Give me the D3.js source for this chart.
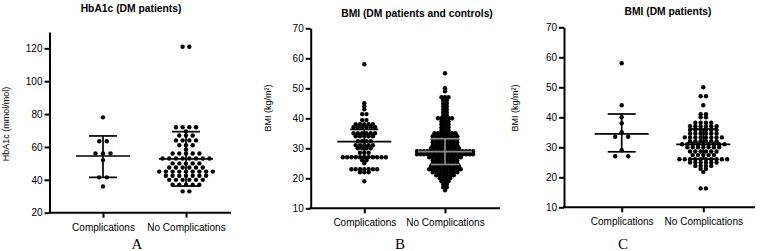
<!DOCTYPE html>
<html>
<head>
<meta charset="utf-8">
<script src="https://cdn.jsdelivr.net/npm/d3@7"></script>
<style>
  body { margin: 0; background: #fff; }
  svg { display: block; font-family: "Liberation Sans", Arial, sans-serif; }
  .axis path, .axis line { stroke: #000; stroke-width: 2; }
  .axis text { fill: #000; font-size: 10px; }
  .x-axis text { font-size: 10px; }
  .title { font-weight: bold; font-size: 10.3px; fill: #000; }
  .ylabel { font-size: 9px; fill: #000; }
  .letter { font-family: "Liberation Serif", "Times New Roman", serif; font-size: 15px; fill: #000; }
</style>
</head>
<body>
<svg id="chart" width="760" height="251"></svg>
<script>
// Chart values
const categories = ['Complications', 'No Complications'];
const panelTitles = ['HbA1c (DM patients)', 'BMI (DM patients and controls)', 'BMI (DM patients)'];
const panelLetters = ['A', 'B', 'C'];
const yAxisLabels = ['HbA1c (mmol/mol)', 'BMI (kg/m\u00b2)', 'BMI (kg/m\u00b2)'];
const yDomains = [[20, 130], [10, 70], [10, 70]];
const yTickValues = [
  [20, 40, 60, 80, 100, 120],
  [10, 20, 30, 40, 50, 60, 70],
  [10, 20, 30, 40, 50, 60, 70]
];

// dot rows: [value, number of dots at that value]
const hba1cComplications = [[78, 1], [63.5, 2], [56, 3], [52, 1], [41.5, 2], [36, 1]];
const hba1cNoComplications = [
  [121, 2], [72, 4], [69.5, 1], [67, 3], [64, 4], [61, 3], [58.5, 1], [56, 5], [53, 8],
  [50, 5], [47.5, 6], [45, 9], [42.5, 7], [40, 6], [37, 5], [33, 2]
];
const bmiAllComplications = [
  [58, 1], [45, 1], [44, 1], [43, 1], [41.4, 2], [39.4, 2], [38, 5], [37, 6], [35, 6],
  [34, 5], [32.4, 4], [31, 5], [30, 4], [28.5, 3], [27, 11], [26, 2], [25, 1], [23, 7],
  [22, 3], [19, 1]
];
const bmiAllNoComplications = [
  [55, 1], [50, 1], [49, 1], [47, 3], [46, 2], [45, 2], [44, 2], [43, 2], [42, 2], [41, 2],
  [40, 5], [39, 3], [38, 3], [37, 3], [36, 3], [35, 7], [34, 8], [33, 8], [32, 8], [31, 8],
  [30, 9], [29, 17], [28, 17], [27, 10], [26, 8], [25, 8], [24, 9], [23, 10], [22, 8], [21, 6],
  [20, 4], [19, 3], [18, 2], [17, 2], [16, 1]
];
const bmiDmComplications = [[58, 1], [44, 1], [40, 1], [38, 1], [35, 1], [33.5, 2], [29, 1], [27, 2]];
const bmiDmNoComplications = [
  [50, 1], [47, 2], [44, 1], [41, 2], [40, 2], [38.2, 4], [37, 6], [35.8, 6], [34.6, 6],
  [33.3, 8], [32, 6], [31, 9], [30, 7], [28.6, 6], [27.4, 5], [26, 10], [24.9, 6],
  [23.8, 4], [22.8, 2], [21.8, 1], [16.3, 2]
];

// mean line and SD caps for each group
const barMeans = [[54.5, 52.7], [32.2, 28.9], [34.5, 31.0]];
const barUpper = [[66.7, 69.3], [36.3, 33.2], [41.1, 36.1]];
const barLower = [[41.5, 36.2], [27.2, 24.6], [28.5, 26.1]];

const groups = [
  [hba1cComplications, hba1cNoComplications],
  [bmiAllComplications, bmiAllNoComplications],
  [bmiDmComplications, bmiDmNoComplications]
];

// Panel layout in pixels
const frames = [
  { left: 49.5, right: 231, top: 31.9, bottom: 212.7, cats: [103, 186], spacing: [7.5, 6.7],
    titleX: 131, titleY: 12, letterX: 137, labelX: 6, labelY: 124 },
  { left: 310.7, right: 500, top: 28.3, bottom: 208.3, cats: [364.3, 445], spacing: [4.3, 3.5],
    titleX: 417, titleY: 17, letterX: 400, labelX: 268, labelY: 108 },
  { left: 564, right: 755, top: 27.3, bottom: 207.3, cats: [621.7, 703.3], spacing: [13, 5.3],
    titleX: 668, titleY: 15, letterX: 623, labelX: 515, labelY: 108 }
];

const dotRadius = 2.2;
const meanHalf = 27;
const capHalf = 14;

const svg = d3.select('#chart');

frames.forEach((f, p) => {
  const g = svg.append('g');

  const y = d3.scaleLinear().domain(yDomains[p]).range([f.bottom, f.top]);
  const x = d3.scalePoint().domain(categories).range(f.cats);

  // dots, each row centred on its category
  categories.forEach((cat, c) => {
    const pts = [];
    groups[p][c].forEach(([v, n]) => {
      for (let i = 0; i < n; i++) {
        pts.push({ v, off: (i - (n - 1) / 2) * f.spacing[c] });
      }
    });
    g.append('g').selectAll('circle')
        .data(pts)
        .enter()
        .append('circle')
        .attr('cx', d => x(cat) + d.off)
        .attr('cy', d => y(d.v))
        .attr('r', dotRadius)
        .attr('fill', '#000');

    // mean +/- SD bar
    const col = (p === 1 && c === 1) ? '#8a8a8a' : '#000';
    const cx = x(cat);
    const bar = g.append('g').attr('stroke', col).attr('stroke-width', 1.7);
    bar.append('line')
        .attr('x1', cx - meanHalf).attr('x2', cx + meanHalf)
        .attr('y1', y(barMeans[p][c])).attr('y2', y(barMeans[p][c]));
    bar.append('line')
        .attr('x1', cx).attr('x2', cx)
        .attr('y1', y(barUpper[p][c])).attr('y2', y(barLower[p][c]));
    [barUpper[p][c], barLower[p][c]].forEach(v => {
      bar.append('line')
          .attr('x1', cx - capHalf).attr('x2', cx + capHalf)
          .attr('y1', y(v)).attr('y2', y(v));
    });
  });

  // y axis
  g.append('g')
      .attr('class', 'axis')
      .attr('transform', `translate(${f.left},0)`)
      .call(d3.axisLeft(y).tickValues(yTickValues[p]).tickSize(5).tickSizeOuter(0).tickPadding(2));

  // x axis: baseline across the panel, ticks at the categories
  g.append('line')
      .attr('x1', f.left - 1).attr('x2', f.right)
      .attr('y1', f.bottom).attr('y2', f.bottom)
      .attr('stroke', '#000').attr('stroke-width', 2);
  const xa = g.append('g')
      .attr('class', 'axis x-axis')
      .attr('transform', `translate(0,${f.bottom})`)
      .call(d3.axisBottom(x).tickSize(5).tickPadding(6));
  xa.select('.domain').remove();

  g.append('text')
      .attr('class', 'title')
      .attr('x', f.titleX).attr('y', f.titleY)
      .attr('text-anchor', 'middle')
      .text(panelTitles[p]);

  g.append('text')
      .attr('class', 'ylabel')
      .attr('transform', `translate(${f.labelX},${f.labelY}) rotate(-90)`)
      .attr('text-anchor', 'middle')
      .attr('dy', '0.35em')
      .text(yAxisLabels[p]);

  g.append('text')
      .attr('class', 'letter')
      .attr('x', f.letterX).attr('y', 249)
      .attr('text-anchor', 'middle')
      .text(panelLetters[p]);
});
</script>
</body>
</html>
